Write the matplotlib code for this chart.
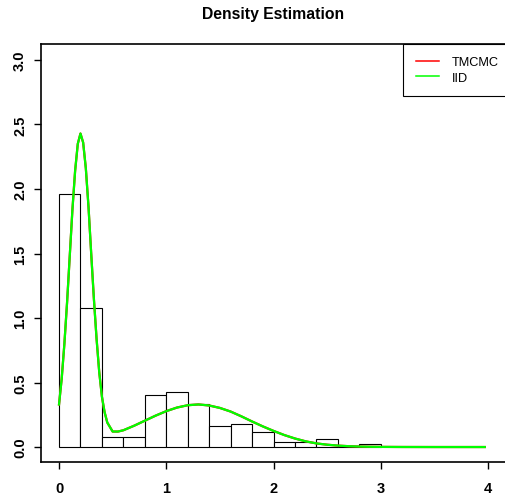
import numpy as np
import matplotlib
matplotlib.use("Agg")
import matplotlib.pyplot as plt

plt.rcParams['font.family'] = ['Liberation Sans', 'DejaVu Sans']

# histogram (density scale), bins of width 0.2 from 0 to 3
bin_edges = [0.0, 0.2, 0.4, 0.6, 0.8, 1.0, 1.2, 1.4, 1.6, 1.8, 2.0, 2.2, 2.4, 2.6, 2.8, 3.0]
hist_density = [1.96, 1.08, 0.08, 0.08, 0.40, 0.43, 0.33, 0.16, 0.18, 0.12, 0.04, 0.04, 0.06, 0.0, 0.02]

# density curves
dens_x = [0.0, 0.025, 0.05, 0.075, 0.1, 0.125, 0.15, 0.175, 0.2, 0.225, 0.25, 0.275,
          0.3, 0.325, 0.35, 0.375, 0.4, 0.425, 0.45, 0.5, 0.55, 0.6, 0.7, 0.8, 0.9,
          1.0, 1.1, 1.2, 1.3, 1.4, 1.5, 1.6, 1.7, 1.8, 1.9, 2.0, 2.1, 2.2, 2.3, 2.4,
          2.5, 2.6, 2.7, 2.8, 2.9, 3.0, 3.2, 3.5, 3.97]
tmcmc_y = [0.33, 0.53, 0.80, 1.12, 1.48, 1.84, 2.14, 2.35, 2.43, 2.36, 2.16, 1.86,
           1.50, 1.15, 0.84, 0.58, 0.39, 0.27, 0.19, 0.12, 0.12, 0.13, 0.165, 0.204, 0.243,
           0.278, 0.306, 0.324, 0.33, 0.322, 0.303, 0.275, 0.238, 0.198, 0.16, 0.125, 0.093, 0.066, 0.044, 0.028,
           0.018, 0.011, 0.0065, 0.0038, 0.002, 0.001, 0.0003, 0.0, 0.0]
iid_y = [0.33, 0.53, 0.80, 1.12, 1.48, 1.84, 2.14, 2.35, 2.43, 2.36, 2.16, 1.86,
         1.50, 1.15, 0.84, 0.58, 0.39, 0.27, 0.19, 0.12, 0.12, 0.13, 0.165, 0.204, 0.243,
         0.278, 0.306, 0.324, 0.33, 0.322, 0.303, 0.275, 0.238, 0.198, 0.16, 0.125, 0.093, 0.066, 0.044, 0.028,
         0.018, 0.011, 0.0065, 0.0038, 0.002, 0.001, 0.0003, 0.0, 0.0]

x_ticks = [0, 1, 2, 3, 4]
y_ticks = [0.0, 0.5, 1.0, 1.5, 2.0, 2.5, 3.0]

fig = plt.figure(figsize=(5.05, 5.02), dpi=100)
ax = fig.add_axes([0.0812, 0.0777, 0.9208, 0.8327])

widths = np.diff(bin_edges)
ax.bar(bin_edges[:-1], hist_density, width=widths, align='edge',
       facecolor='white', edgecolor='black', linewidth=0.8)

ax.plot(dens_x, tmcmc_y, color='#ff0000', lw=1.6, label='TMCMC')
ax.plot(dens_x, iid_y, color='#00ff00', lw=1.6, label='IID')

ax.set_xlim(-0.168, 4.168)
ax.set_ylim(-0.116, 3.124)
ax.set_xticks(x_ticks)
ax.set_xticklabels([str(t) for t in x_ticks], fontweight='bold')
ax.set_yticks(y_ticks)
ax.set_yticklabels(['%.1f' % t for t in y_ticks], rotation=90, va='center', fontweight='bold')
ax.tick_params(length=5, width=1.0, labelsize=10.5)
ax.tick_params(axis='x', pad=9)
ax.tick_params(axis='y', pad=5)
for s in ax.spines.values():
    s.set_linewidth(1.2)

ax.set_title('Density Estimation', fontsize=11.3, fontweight='bold', pad=19)

leg = ax.legend(loc='upper right', bbox_to_anchor=(1.011, 1.0), borderaxespad=0,
                fancybox=False, edgecolor='black', framealpha=1, fontsize=9.2,
                handlelength=1.85, handletextpad=1.0, borderpad=0.95, labelspacing=0.3)
leg.get_frame().set_linewidth(0.8)
for ln in leg.get_lines():
    ln.set_linewidth(1.1)

fig.savefig('out.png', dpi=100)
